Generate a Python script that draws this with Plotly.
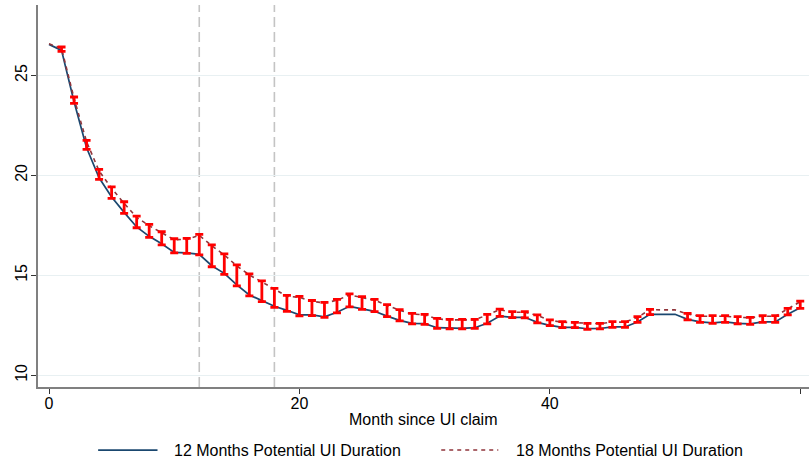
import numpy as np
import plotly.graph_objects as go

months = list(range(0, 61))

dur12 = [26.55, 26.25, 23.68, 21.38, 19.88, 18.92, 18.15, 17.42, 16.95, 16.58,
         16.15, 16.12, 16.05, 15.48, 15.10, 14.52, 14.02, 13.72, 13.45, 13.25,
         13.02, 13.02, 12.92, 13.15, 13.45, 13.32, 13.20, 12.96, 12.75, 12.60,
         12.58, 12.38, 12.35, 12.35, 12.38, 12.60, 12.96, 12.90, 12.90, 12.65,
         12.50, 12.40, 12.40, 12.33, 12.34, 12.42, 12.42, 12.67, 13.05, 13.05,
         13.05, 12.80, 12.67, 12.62, 12.67, 12.60, 12.57, 12.67, 12.67, 13.05,
         13.38]

dur18 = [26.58, 26.35, 23.85, 21.68, 20.22, 19.35, 18.60, 17.90, 17.48, 17.12,
         16.78, 16.80, 17.00, 16.48, 16.02, 15.47, 15.02, 14.67, 14.30, 13.95,
         13.90, 13.70, 13.62, 13.75, 14.02, 13.90, 13.76, 13.50, 13.25, 13.07,
         13.02, 12.82, 12.77, 12.77, 12.77, 13.02, 13.28, 13.15, 13.15, 13.00,
         12.75, 12.66, 12.63, 12.58, 12.58, 12.66, 12.66, 12.90, 13.28, 13.27,
         13.27, 13.07, 12.95, 12.95, 12.95, 12.90, 12.88, 12.95, 12.95, 13.32,
         13.68]

ci_months = [m for m in range(1, 61) if m not in (49, 50)]
ci_lo = [26.20, 23.60, 21.30, 19.80, 18.85, 18.10, 17.38, 16.90, 16.52, 16.12,
         16.10, 16.02, 15.43, 15.05, 14.47, 13.97, 13.68, 13.40, 13.20, 12.97,
         12.98, 12.90, 13.12, 13.42, 13.30, 13.18, 12.93, 12.72, 12.57, 12.55,
         12.35, 12.32, 12.32, 12.35, 12.57, 12.95, 12.88, 12.87, 12.62, 12.48,
         12.38, 12.38, 12.30, 12.32, 12.40, 12.40, 12.65, 13.03,
         12.77, 12.65, 12.60, 12.65, 12.57, 12.55, 12.65, 12.65, 13.02, 13.35]
ci_hi = [26.42, 23.92, 21.75, 20.30, 19.42, 18.68, 17.96, 17.55, 17.18, 16.83,
         16.85, 17.05, 16.52, 16.07, 15.52, 15.07, 14.72, 14.35, 14.00, 13.95,
         13.74, 13.65, 13.80, 14.07, 13.93, 13.80, 13.53, 13.28, 13.10, 13.05,
         12.85, 12.80, 12.80, 12.80, 13.05, 13.31, 13.18, 13.18, 13.02, 12.77,
         12.68, 12.65, 12.60, 12.60, 12.68, 12.68, 12.93, 13.30,
         13.10, 12.98, 12.98, 12.98, 12.93, 12.90, 12.98, 12.98, 13.35, 13.71]

vlines = [12, 18]
y_ticks = [10, 15, 20, 25]
x_ticks = [0, 20, 40, 60]
x_title = "Month since UI claim"
legend_names = ["12 Months Potential UI Duration", "18 Months Potential UI Duration"]

BLUE = "#1a476f"
MAROON = "#90353b"
FONT = "Liberation Sans, Arial, sans-serif"

lo = np.array(ci_lo)
hi = np.array(ci_hi)
mid = (lo + hi) / 2

fig = go.Figure()
fig.add_trace(go.Scatter(x=months, y=dur12, mode="lines",
                         line=dict(color=BLUE, width=1.7), name=legend_names[0],
                         showlegend=False))
fig.add_trace(go.Scatter(x=months, y=dur18, mode="lines",
                         line=dict(color=MAROON, width=1.6, dash="4px,4px"),
                         name=legend_names[1], showlegend=False))
fig.add_trace(go.Scatter(x=ci_months, y=mid, mode="markers",
                         marker=dict(size=1, color="rgba(0,0,0,0)"),
                         error_y=dict(type="data", symmetric=False,
                                      array=hi - mid, arrayminus=mid - lo,
                                      color="#ff0000", thickness=2.8, width=4),
                         showlegend=False, hoverinfo="skip"))

for v in vlines:
    fig.add_shape(type="line", xref="x", yref="paper", x0=v, x1=v, y0=0, y1=1,
                  line=dict(color="#c4c4c4", width=1.6, dash="10px,5px"), layer="below")

# x-axis title
fig.add_annotation(xref="paper", yref="paper", x=0.5, y=-0.086, xanchor="center",
                   yanchor="middle", text=x_title, showarrow=False,
                   font=dict(family=FONT, size=16, color="#000000"))

# manual legend
leg_y = -0.165
fig.add_shape(type="line", xref="paper", yref="paper", x0=0.078, x1=0.155,
              y0=leg_y, y1=leg_y, line=dict(color=BLUE, width=1.7))
fig.add_shape(type="line", xref="paper", yref="paper", x0=0.523, x1=0.597,
              y0=leg_y, y1=leg_y, line=dict(color=MAROON, width=1.6, dash="4px,4px"))
fig.add_annotation(xref="paper", yref="paper", x=0.174, y=leg_y, xanchor="left",
                   yanchor="middle", text=legend_names[0], showarrow=False,
                   font=dict(family=FONT, size=16, color="#000000"))
fig.add_annotation(xref="paper", yref="paper", x=0.617, y=leg_y, xanchor="left",
                   yanchor="middle", text=legend_names[1], showarrow=False,
                   font=dict(family=FONT, size=16, color="#000000"))

fig.update_layout(
    width=809, height=461,
    margin=dict(l=38, r=0, t=5, b=74),
    paper_bgcolor="white", plot_bgcolor="white",
    font=dict(family=FONT, size=16, color="#000000"),
    showlegend=False,
    xaxis=dict(range=[-0.88, 60.7], tickvals=x_ticks, showgrid=False, zeroline=False,
               showline=True, linecolor="#808080", linewidth=2,
               ticks="outside", ticklen=5, tickcolor="#333333", tickwidth=1,
               tickfont=dict(size=16), ticklabelstandoff=-4),
    yaxis=dict(range=[9.415, 28.52], tickvals=y_ticks, showgrid=True,
               gridcolor="#e8f0f2", gridwidth=1, zeroline=False,
               showline=True, linecolor="#808080", linewidth=2,
               ticks="outside", ticklen=5, tickcolor="#333333", tickwidth=1,
               tickangle=-90, tickfont=dict(size=16), ticklabelstandoff=-2),
)

fig.write_html("out.html", config={"displayModeBar": False},
               post_script="document.body.style.margin='0';document.body.style.overflow='hidden';")
